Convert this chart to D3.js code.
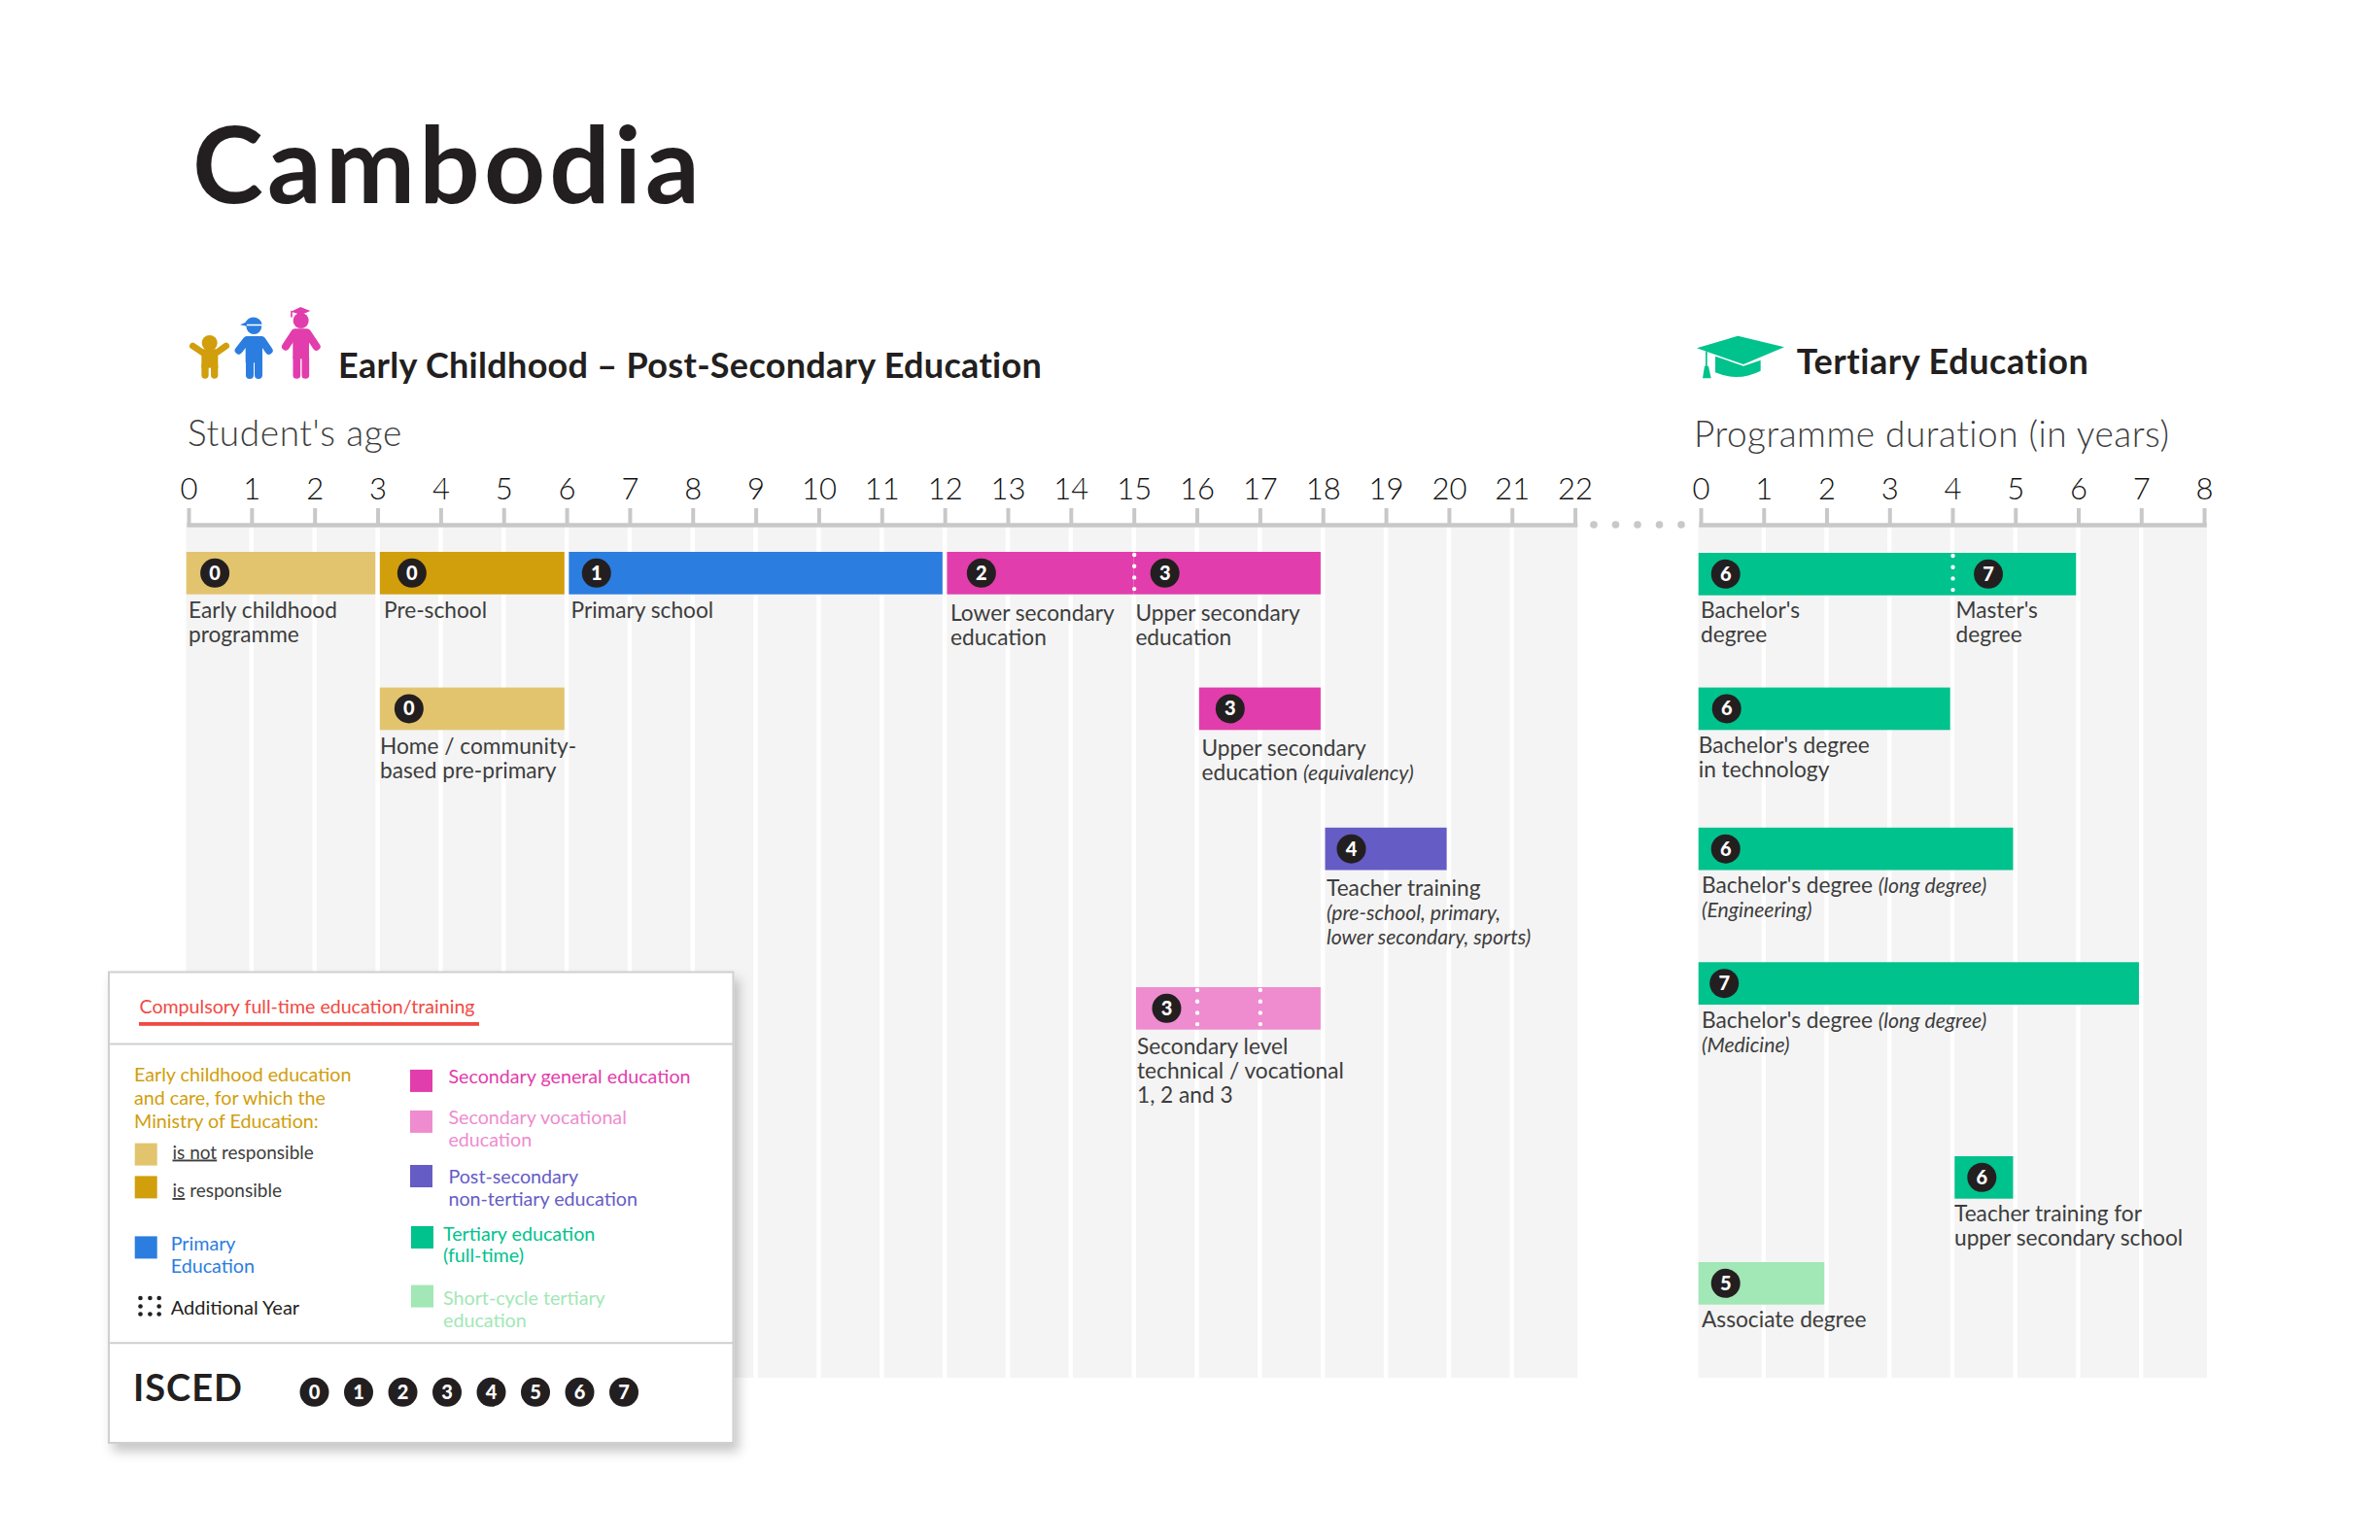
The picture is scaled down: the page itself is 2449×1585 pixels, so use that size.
<!DOCTYPE html>
<html>
<head>
<meta charset="utf-8">
<title>Cambodia</title>
<script src="https://d3js.org/d3.v7.min.js"></script>
<style>
	body { margin: 0; background: #fff; }
	svg { display: block; }
	text { font-family: Lato, "Open Sans", sans-serif; fill: #3d3d3d; }
	.axis text { font-size: 31px; font-weight: 300; fill: #111; }
	.axis path { stroke: #c8c8c8; stroke-width: 4.5px; stroke-linecap: square; fill: none; }
	.axis line { stroke: #c8c8c8; stroke-width: 4px; }
	.label { font-size: 22.7px; }
</style>
</head>
<body>
<svg id="chart" width="2449" height="1585"></svg>
<script>
// Ticks
var ageTicks = d3.range(0, 23);
var durationTicks = d3.range(0, 9);

// Early childhood - post secondary programmes, by student's age
var ageNames = [
	["Early childhood", "programme"],
	["Pre-school"],
	["Primary school"],
	["Lower secondary", "education"],
	["Upper secondary", "education"],
	["Home / community-", "based pre-primary"],
	["Upper secondary", "education (equivalency)"],
	["Teacher training", "(pre-school, primary,", "lower secondary, sports)"],
	["Secondary level", "technical / vocational", "1, 2 and 3"]
];
var ageStart = [0, 3, 6, 12, 15, 3, 16, 18, 15];
var ageEnd = [3, 6, 12, 15, 18, 6, 18, 20, 18];
var ageLevel = [0, 0, 1, 2, 3, 0, 3, 4, 3];
var ageKind = ["ecNot", "ecIs", "primary", "secondary", "secondary", "ecNot", "secondary", "postsec", "vocational"];
var ageRow = ["a", "a", "a", "a", "a", "b", "b", "c", "d"];

// additional years, drawn as white dotted lines
var ageDottedRow = ["a", "d", "d"];
var ageDottedYear = [15, 16, 17];

// Tertiary programmes, by programme duration
var tertNames = [
	["Bachelor's", "degree"],
	["Master's", "degree"],
	["Bachelor's degree", "in technology"],
	["Bachelor's degree (long degree)", "(Engineering)"],
	["Bachelor's degree (long degree)", "(Medicine)"],
	["Teacher training for", "upper secondary school"],
	["Associate degree"]
];
var tertStart = [0, 4, 0, 0, 0, 4, 0];
var tertEnd = [4, 6, 4, 5, 7, 5, 2];
var tertLevel = [6, 7, 6, 6, 7, 6, 5];
var tertKind = ["tertiary", "tertiary", "tertiary", "tertiary", "tertiary", "tertiary", "shortCycle"];
var tertRow = ["a", "a", "b", "c", "d", "e", "f"];

var tertDottedRow = ["a"];
var tertDottedYear = [4];

var iscedLevels = [0, 1, 2, 3, 4, 5, 6, 7];

// colours
var kinds = ["ecNot", "ecIs", "primary", "secondary", "vocational", "postsec", "tertiary", "shortCycle"];
var kindColors = ["#e3c46e", "#d19e0c", "#2c7de0", "#e23dac", "#ee8ccf", "#655cc6", "#00c28c", "#a2e7b6"];
var colour = d3.scaleOrdinal(kinds, kindColors);

// layout
var axisY = 540, bandBottom = 1418, barH = 43.7;
var x = d3.scaleLinear().domain([0, 22]).range([194, 1620.6]);
var t = d3.scaleLinear().domain([0, 8]).range([1750, 2268]);
var ageY = d3.scaleOrdinal(["a", "b", "c", "d"], [568, 707.6, 851.8, 1016]);
var tertY = d3.scaleOrdinal(["a", "b", "c", "d", "e", "f"], [569, 707.6, 851.8, 990.3, 1190, 1299]);
var ageBadgeDx = [29.4, 33, 28.4, 35.4, 32, 30, 32, 27, 31.5];
var tertBadgeDx = [28, 37, 29, 28, 26.5, 28, 28];
var ageLabelX = [194, 395, 587.5, 978, 1168.4, 391, 1236.5, 1365, 1170];
var ageLabelY = [636, 636, 636, 638.5, 638.5, 776, 777.5, 922, 1085];
var tertLabelX = [1750, 2012.5, 1747.7, 1751, 1751, 2011, 1751];
var tertLabelY = [636, 636, 774.5, 918.5, 1058, 1257, 1366];

var svg = d3.select("#chart");
var defs = svg.append("defs");
var shadow = defs.append("filter").attr("id", "boxShadow")
	.attr("x", "-5%").attr("y", "-5%").attr("width", "112%").attr("height", "115%");
shadow.append("feDropShadow").attr("dx", 5).attr("dy", 8).attr("stdDeviation", 6)
	.attr("flood-color", "#000").attr("flood-opacity", 0.22);

svg.append("rect").attr("width", 2449).attr("height", 1585).attr("fill", "#fff");

function addText(parent, px, py, str, size, weight, fill, spacing) {
	return parent.append("text")
		.attr("x", px).attr("y", py)
		.style("font-size", size + "px")
		.style("font-weight", weight)
		.style("fill", fill)
		.style("letter-spacing", (spacing || 0) + "px")
		.text(str);
}

// grey columns behind the bars, white gap at each tick
function drawBands(scale, ticks, rightPad) {
	var n = ticks.length - 1;
	svg.append("g").selectAll("rect")
		.data(d3.range(n))
		.join("rect")
		.attr("x", function(i) { return i == 0 ? scale(0) - 2.5 : scale(i) + 2.25; })
		.attr("y", axisY)
		.attr("width", function(i) {
			var left = i == 0 ? scale(0) - 2.5 : scale(i) + 2.25;
			var right = i == n - 1 ? scale(n) + rightPad : scale(i + 1) - 2.25;
			return right - left;
		})
		.attr("height", bandBottom - axisY)
		.attr("fill", "#f4f4f4");
}

function drawAxis(scale, ticks) {
	svg.append("g")
		.attr("class", "axis")
		.attr("transform", "translate(0," + axisY + ")")
		.call(d3.axisTop(scale).tickValues(ticks).tickFormat(d3.format("d"))
			.tickSize(17).tickSizeOuter(0).tickPadding(9));
}

function drawBadge(parent, cx, cy, level, r) {
	parent.append("circle").attr("cx", cx).attr("cy", cy).attr("r", r).attr("fill", "#231f20");
	parent.append("text")
		.attr("x", cx).attr("y", cy + 7)
		.attr("text-anchor", "middle")
		.style("font-size", "20px").style("font-weight", 900).style("fill", "#fff")
		.text(level);
}

// italic for the bits in brackets
function drawLabel(px, py, lines) {
	var lab = svg.append("text").attr("class", "label").attr("x", px).attr("y", py);
	lines.forEach(function(line, i) {
		var runs = line.split(/(\([^)]*\)?|[^(]*\))/).filter(function(s) { return s != ""; });
		runs.forEach(function(run, j) {
			var span = lab.append("tspan").text(run);
			if (j == 0) span.attr("x", px).attr("y", py + i * 25);
			if (run.indexOf("(") >= 0 || run.indexOf(")") >= 0) {
				span.style("font-style", "italic").style("font-size", "21.2px");
			}
		});
	});
}

// one panel of bars, labels, badges and dotted years
function drawPanel(scale, yScale, names, starts, ends, levels, kindsOf, rows, dotRows, dotYears, badgeDx, labelX, labelY) {
	function joined(row, year) {
		return dotRows.some(function(r, i) { return r == row && dotYears[i] == year; });
	}
	function left(i) {
		if (starts[i] == 0) return scale(0) - 2.3;
		return joined(rows[i], starts[i]) ? scale(starts[i]) : scale(starts[i]) + 2.3;
	}
	function right(i) {
		return joined(rows[i], ends[i]) ? scale(ends[i]) : scale(ends[i]) - 2.3;
	}
	var idx = d3.range(names.length);

	svg.append("g").selectAll("rect")
		.data(idx)
		.join("rect")
		.attr("x", left)
		.attr("y", function(i) { return yScale(rows[i]); })
		.attr("width", function(i) { return right(i) - left(i); })
		.attr("height", barH)
		.attr("fill", function(i) { return colour(kindsOf[i]); });

	svg.append("g").selectAll("line")
		.data(dotYears)
		.join("line")
		.attr("x1", function(d) { return scale(d) + 0.5; })
		.attr("x2", function(d) { return scale(d) + 0.5; })
		.attr("y1", function(d, i) { return yScale(dotRows[i]) + 3; })
		.attr("y2", function(d, i) { return yScale(dotRows[i]) + barH; })
		.attr("stroke", "#fff")
		.attr("stroke-width", 4.4)
		.attr("stroke-linecap", "round")
		.attr("stroke-dasharray", "0 11.7");

	idx.forEach(function(i) {
		drawBadge(svg, left(i) + badgeDx[i], yScale(rows[i]) + barH / 2, levels[i], 15);
		drawLabel(labelX[i], labelY[i], names[i]);
	});
}

//Title and headers
addText(svg, 198, 209, "Cambodia", 110, 700, "#231f20", 4.2);
addText(svg, 348, 389, "Early Childhood \u2013 Post-Secondary Education", 36, 700, "#231f20", 0.3);
addText(svg, 1848.7, 385, "Tertiary Education", 36, 700, "#231f20", 0.55);
addText(svg, 193, 459, "Student's age", 37, 300, "#3d3d3d", 0.6);
addText(svg, 1743, 460, "Programme duration (in years)", 37, 300, "#3d3d3d", 0.5);

drawIcons();

drawBands(x, ageTicks, 2.5);
drawBands(t, durationTicks, 3);
drawAxis(x, ageTicks);
drawAxis(t, durationTicks);

// dots between the two axes
var gapDots = d3.scalePoint().domain(d3.range(5)).range([1640, 1730]);
svg.append("g").selectAll("circle")
	.data(gapDots.domain())
	.join("circle")
	.attr("cx", function(d) { return gapDots(d); })
	.attr("cy", axisY)
	.attr("r", 3.8)
	.attr("fill", "#c8c8c8");

drawPanel(x, ageY, ageNames, ageStart, ageEnd, ageLevel, ageKind, ageRow, ageDottedRow, ageDottedYear, ageBadgeDx, ageLabelX, ageLabelY);
drawPanel(t, tertY, tertNames, tertStart, tertEnd, tertLevel, tertKind, tertRow, tertDottedRow, tertDottedYear, tertBadgeDx, tertLabelX, tertLabelY);

drawLegend();

function drawIcons() {
	// little people, coordinates are 3x the page
	var kids = svg.append("g").attr("transform", "translate(180,300) scale(0.3333)")
		.attr("fill", "none").attr("stroke-linecap", "round").attr("stroke-linejoin", "round");

	var gold = colour("ecIs");
	kids.append("circle").attr("cx", 107).attr("cy", 159).attr("r", 24).attr("fill", gold);
	kids.append("path").attr("d", "M55 168 L85 188 H130 L158 168").attr("stroke", gold).attr("stroke-width", 20);
	kids.append("rect").attr("x", 82).attr("y", 186).attr("width", 51).attr("height", 50).attr("fill", gold);
	kids.append("path").attr("d", "M93 230 V258 M122 230 V258").attr("stroke", gold).attr("stroke-width", 22);

	var blue = colour("primary");
	kids.append("path").attr("d", "M216 101 A27 27 0 0 1 269 101 Z").attr("fill", blue);
	kids.append("path").attr("d", "M201 103 L222 94 L222 107 Z").attr("fill", blue);
	kids.append("path").attr("d", "M220 106 H268 A24 26 0 0 1 220 106 Z").attr("fill", blue);
	kids.append("path").attr("d", "M197 182 L222 150 H268 L290 182").attr("stroke", blue).attr("stroke-width", 24);
	kids.append("rect").attr("x", 218).attr("y", 140).attr("width", 52).attr("height", 80).attr("fill", blue);
	kids.append("path").attr("d", "M231 215 V258 M258 215 V258").attr("stroke", blue).attr("stroke-width", 24);

	var pink = colour("secondary");
	kids.append("circle").attr("cx", 389).attr("cy", 90).attr("r", 24).attr("fill", pink);
	kids.append("path").attr("d", "M358 62 L388 48 L418 60 L390 72 Z").attr("fill", pink);
	kids.append("path").attr("d", "M360 62 V78").attr("stroke", pink).attr("stroke-width", 5);
	kids.append("path").attr("d", "M342 170 L370 127 H408 L437 170").attr("stroke", pink).attr("stroke-width", 24);
	kids.append("rect").attr("x", 364).attr("y", 118).attr("width", 50).attr("height", 90).attr("fill", pink);
	kids.append("path").attr("d", "M376 205 V258 M403 205 V258").attr("stroke", pink).attr("stroke-width", 23);

	// graduation cap
	var cap = svg.append("g").attr("transform", "translate(1730,320) scale(0.3333)").attr("fill", colour("tertiary"));
	cap.append("path").attr("d", "M48 115 L175 77 L318 112 L192 165 Z");
	cap.append("path").attr("d", "M105 140 L192 170 L245 152 V185 Q175 220 105 190 Z");
	cap.append("rect").attr("x", 75).attr("y", 125).attr("width", 5).attr("height", 50);
	cap.append("path").attr("d", "M72 170 H84 L92 208 H66 Z");
}

function drawLegend() {
	var g = svg.append("g");
	g.append("rect").attr("x", 112).attr("y", 1000.5).attr("width", 642.5).attr("height", 484.5)
		.attr("fill", "#fff").attr("stroke", "#cfcfcf").attr("stroke-width", 2)
		.attr("filter", "url(#boxShadow)");
	g.append("line").attr("x1", 112).attr("x2", 754.5).attr("y1", 1074.4).attr("y2", 1074.4).attr("stroke", "#cfcfcf").attr("stroke-width", 2);
	g.append("line").attr("x1", 112).attr("x2", 754.5).attr("y1", 1382.2).attr("y2", 1382.2).attr("stroke", "#cfcfcf").attr("stroke-width", 2);

	addText(g, 143.5, 1043.4, "Compulsory full-time education/training", 19.6, 400, "#f04a43");
	g.append("rect").attr("x", 143).attr("y", 1052).attr("width", 350).attr("height", 3.8).attr("fill", "#f04a43");

	function swatch(kind, sx, sy) {
		g.append("rect").attr("x", sx).attr("y", sy).attr("width", 23).attr("height", 23).attr("fill", colour(kind));
	}
	function legendLines(kind, lx, ly, lines) {
		lines.forEach(function(line, i) {
			addText(g, lx, ly[i], line, 19.7, 400, colour(kind));
		});
	}

	legendLines("ecIs", 138, [1113.3, 1137.4, 1160.5], ["Early childhood education", "and care, for which the", "Ministry of Education:"]);
	swatch("ecNot", 138.7, 1176.6);
	swatch("ecIs", 138.7, 1210.4);

	var notResp = addText(g, 177.5, 1192.5, "", 19, 400, "#3d3d3d");
	notResp.append("tspan").style("text-decoration", "underline").text("is not");
	notResp.append("tspan").text(" responsible");
	var isResp = addText(g, 177.5, 1232, "", 19, 400, "#3d3d3d");
	isResp.append("tspan").style("text-decoration", "underline").text("is");
	isResp.append("tspan").text(" responsible");

	swatch("primary", 138.7, 1272.4);
	legendLines("primary", 175.7, [1287, 1310], ["Primary", "Education"]);

	// additional year marker, square of 8 dots
	var dotXs = [144.5, 154.4, 163.7], dotYs = [1336, 1344.5, 1352.5];
	dotYs.forEach(function(dy, r) {
		dotXs.forEach(function(dx, c) {
			if (r == 1 && c == 1) return;
			g.append("circle").attr("cx", dx).attr("cy", dy).attr("r", 2.3).attr("fill", "#231f20");
		});
	});
	addText(g, 175.7, 1352.6, "Additional Year", 20, 400, "#231f20");

	swatch("secondary", 422, 1100.9);
	legendLines("secondary", 461.4, [1115], ["Secondary general education"]);
	swatch("vocational", 422, 1142.9);
	legendLines("vocational", 461.4, [1157, 1180.4], ["Secondary vocational", "education"]);
	swatch("postsec", 422, 1199);
	legendLines("postsec", 461.4, [1218.3, 1241.4], ["Post-secondary", "non-tertiary education"]);
	swatch("tertiary", 423, 1262);
	legendLines("tertiary", 456, [1276.5, 1299], ["Tertiary education", "(full-time)"]);
	swatch("shortCycle", 423, 1322.6);
	legendLines("shortCycle", 456, [1343, 1366], ["Short-cycle tertiary", "education"]);

	addText(g, 137, 1442, "ISCED", 38, 700, "#231f20", 1);
	var isced = d3.scalePoint().domain(iscedLevels).range([323.5, 642]);
	iscedLevels.forEach(function(d) {
		drawBadge(g, isced(d), 1432.8, d, 15);
	});
}
</script>
</body>
</html>
